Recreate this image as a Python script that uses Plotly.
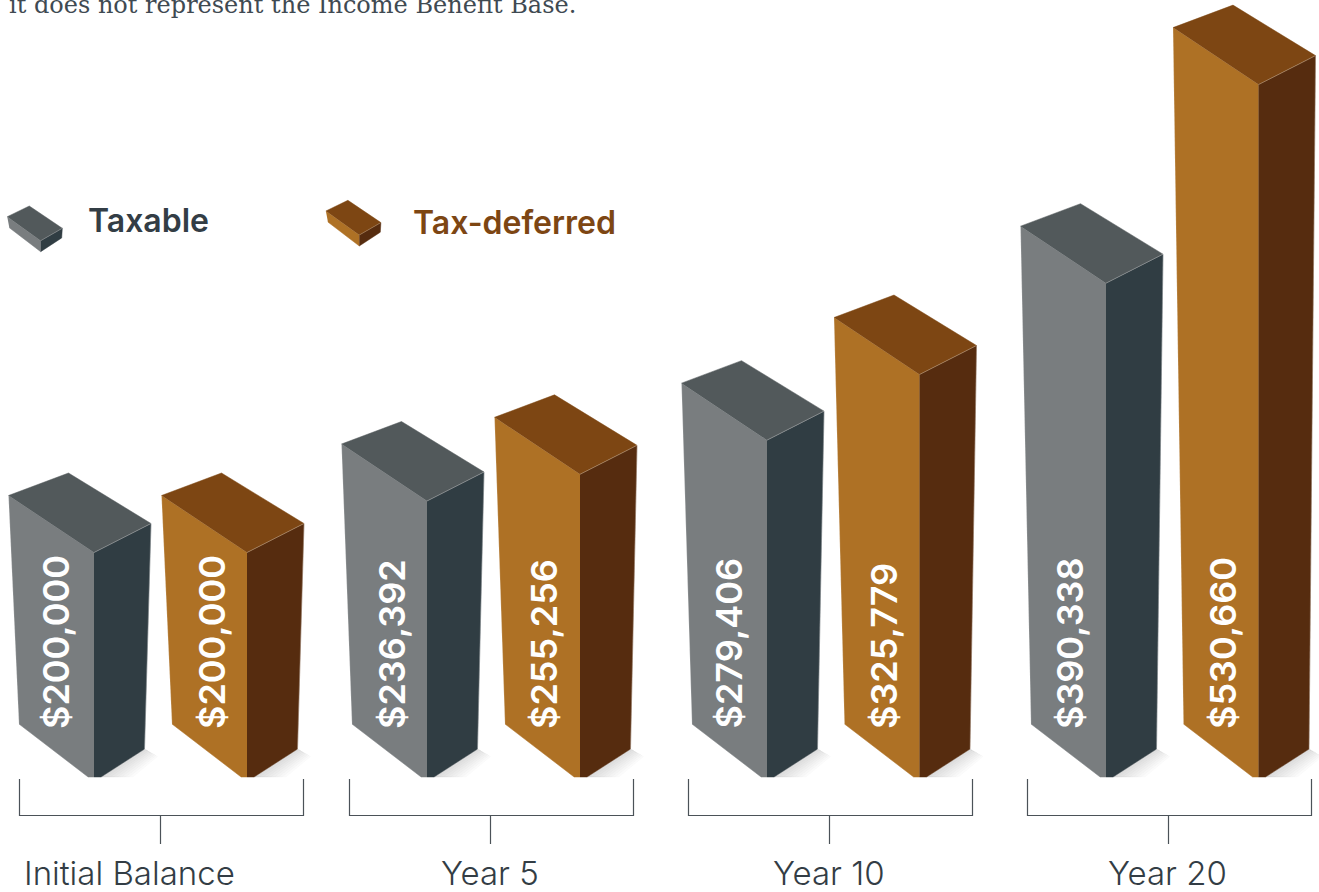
import plotly.graph_objects as go

# Chart data
GROUPS = ["Initial Balance", "Year 5", "Year 10", "Year 20"]
TAXABLE = [200000, 236392, 279406, 390338]
TAX_DEFERRED = [200000, 255256, 325779, 530660]
LEGEND_NAMES = ["Taxable", "Tax-deferred"]
NOTE = "it does not represent the Income Benefit Base."

# Canvas and value scale: the y axis is in dollars, the x axis in canvas units
WIDTH, HEIGHT = 1319, 892
USD_PER_PX = 706.7
Y_TOP = 590459
Y_BOTTOM = Y_TOP - HEIGHT * USD_PER_PX


def usd(px):
    """Dollar value sitting at a given distance from the top of the canvas."""
    return Y_TOP - px * USD_PER_PX


BASE_VALUE = usd(781.5)   # where the front corners would meet the ground
FLOOR_VALUE = usd(777)    # bars are cut flat at this level

# Layout of the groups
TAXABLE_FRONT_X = [94, 427, 767, 1106]
DEFERRED_FRONT_X = [247, 580, 919.5, 1258.5]
BRACKET_LEFT = [19, 349, 688, 1027]
BRACKET_WIDTH = 284
LABEL_CENTER = [129.5, 490, 829, 1167]
TAXABLE_TEXT_X = [56, 392, 728, 1070]
DEFERRED_TEXT_X = [212, 544, 884, 1223]

GREY = dict(side="#797d7f", top="#52595b", dark="#303d43")
BROWN = dict(side="#ae7125", top="#7d4613", dark="#562c0f")
INK = "#333d45"
LABEL_FONT = "Inter"

fig = go.Figure()


def poly(xs, ys, color):
    fig.add_trace(go.Scatter(
        x=xs, y=ys, mode="lines", fill="toself", fillcolor=color,
        line=dict(width=0.5, color=color), hoverinfo="skip", showlegend=False,
    ))


def edge(xs, ys, color, width=0.8):
    fig.add_trace(go.Scatter(
        x=xs, y=ys, mode="lines", line=dict(width=width, color=color),
        hoverinfo="skip", showlegend=False,
    ))


def column(fx, value, palette):
    """Draw one cuboid whose front top corner stands at the given dollar value."""
    up = USD_PER_PX
    top_front = value
    top_left = value + 57 * up
    top_back = value + 79.5 * up
    top_right = value + 29 * up
    low_left = BASE_VALUE + 57.5 * up
    low_right = BASE_VALUE + 32.5 * up

    # Where the lower edges cross the floor line
    cut = (FLOOR_VALUE - low_left) / (BASE_VALUE - low_left)
    cut_left_x = (fx - 75) + 75 * cut
    cut = (FLOOR_VALUE - low_right) / (BASE_VALUE - low_right)
    cut_right_x = (fx + 50.5) - 50.5 * cut

    # Soft ground shadow built from stacked translucent fans
    layers = 9
    for i in range(1, layers + 1):
        t = i / layers
        tip_x = fx + 50.5 + 14 * (1.05 - t)
        tip_y = low_right - 8 * (1.05 - t) * up
        poly([fx + 50.5, tip_x, cut_right_x + 34 * (1.05 - t), cut_right_x],
             [low_right, tip_y, FLOOR_VALUE, FLOOR_VALUE],
             "rgba(120,124,124,0.028)")

    poly([fx - 85.5, fx, fx, cut_left_x, fx - 75],
         [top_left, top_front, FLOOR_VALUE, FLOOR_VALUE, low_left],
         palette["side"])
    poly([fx, fx + 57, fx + 50.5, cut_right_x, fx],
         [top_front, top_right, low_right, FLOOR_VALUE, FLOOR_VALUE],
         palette["dark"])
    poly([fx - 85.5, fx - 25.5, fx + 57, fx],
         [top_left, top_back, top_right, top_front],
         palette["top"])

    edge([fx, fx + 57], [top_front, top_right], "rgba(255,255,255,0.35)")
    edge([fx + 57, fx + 50.5], [top_right, low_right], "rgba(255,255,255,0.3)", 0.7)
    edge([fx - 85.5, fx - 75], [top_left, low_left], "rgba(255,255,255,0.3)", 0.7)


def legend_block(fx, py, palette):
    """Small flat block used as a legend key; (fx, py) is its front top corner."""
    Y = lambda p: usd(py + p)
    poly([fx - 33.4, fx, fx, fx - 31.4], [Y(-24), Y(0), Y(11), Y(-13)], palette["side"])
    poly([fx, fx + 21.6, fx + 21, fx], [Y(0), Y(-12.4), Y(-2.8), Y(11)], palette["dark"])
    poly([fx - 33.4, fx - 11.4, fx + 21.6, fx], [Y(-24), Y(-34.7), Y(-12.4), Y(0)], palette["top"])
    edge([fx, fx + 21.6], [Y(0), Y(-12.4)], "rgba(255,255,255,0.35)", 0.6)


for fx, value in zip(TAXABLE_FRONT_X, TAXABLE):
    column(fx, value, GREY)
for fx, value in zip(DEFERRED_FRONT_X, TAX_DEFERRED):
    column(fx, value, BROWN)

legend_block(40.7, 240.7, GREY)
legend_block(359.3, 235, BROWN)

# Group brackets
for left in BRACKET_LEFT:
    right = left + BRACKET_WIDTH
    mid = left + BRACKET_WIDTH / 2 - 1
    edge([left + 0.5, left + 0.5, right + 0.5, right + 0.5],
         [usd(779), usd(815.5), usd(815.5), usd(779)], "#4b5258", 1.2)
    edge([mid + 0.5, mid + 0.5], [usd(815.5), usd(844)], "#4b5258", 1.2)


def label(x, px, text, size, color, family=LABEL_FONT, angle=0, xanchor="center",
          yanchor="middle", weight=None):
    fig.add_annotation(
        x=x, y=usd(px), xref="x", yref="y", text=text, showarrow=False,
        textangle=angle, xanchor=xanchor, yanchor=yanchor,
        font=dict(family=family, size=size, color=color, weight=weight),
    )


for x, value in zip(TAXABLE_TEXT_X, TAXABLE):
    label(x, 731, f"${value:,}", 36, "white", angle=-90, yanchor="bottom", weight=600)
for x, value in zip(DEFERRED_TEXT_X, TAX_DEFERRED):
    label(x, 731, f"${value:,}", 36, "white", angle=-90, yanchor="bottom", weight=600)

for x, name in zip(LABEL_CENTER, GROUPS):
    label(x, 873, name, 33, INK, weight=300)

label(86, 220, LEGEND_NAMES[0], 32, INK, xanchor="left", weight=600)
label(411, 222, LEGEND_NAMES[1], 32, "#7d4613", xanchor="left", weight=600)
label(7, 5, NOTE, 24, "#3f4a52", family="DejaVu Serif", xanchor="left")

fig.update_layout(
    width=WIDTH, height=HEIGHT, margin=dict(l=0, r=0, t=0, b=0),
    paper_bgcolor="white", plot_bgcolor="white", showlegend=False,
    xaxis=dict(range=[0, WIDTH], visible=False, fixedrange=True),
    yaxis=dict(range=[Y_BOTTOM, Y_TOP], visible=False, fixedrange=True),
)
fig.write_html("out.html", config=dict(displayModeBar=False))
